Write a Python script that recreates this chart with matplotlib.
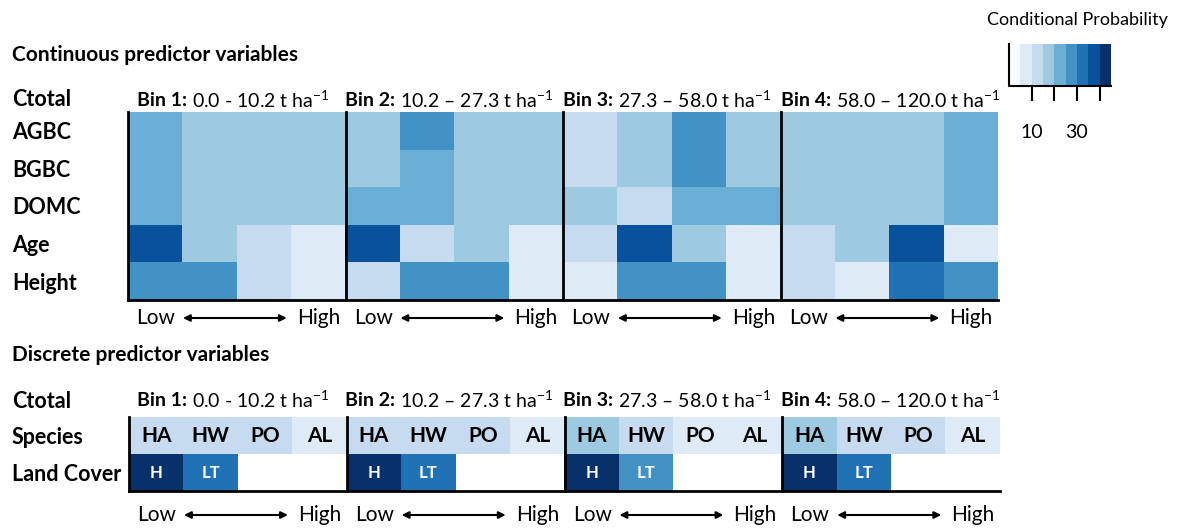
import numpy as np
import matplotlib
matplotlib.use("Agg")
import matplotlib.pyplot as plt
from matplotlib.colors import ListedColormap, BoundaryNorm
from matplotlib.cm import ScalarMappable

plt.rcParams['font.family'] = ['Lato', 'DejaVu Sans']
plt.rcParams['mathtext.fontset'] = 'custom'
plt.rcParams['mathtext.rm'] = 'Lato'
plt.rcParams['mathtext.bf'] = 'Lato:bold'

# data
bin_names = ['Bin 1:', 'Bin 2:', 'Bin 3:', 'Bin 4:']
bin_ranges = ['0.0 - 10.2', '10.2 \u2013 27.3', '27.3 \u2013 58.0', '58.0 \u2013 120.0']
cont_vars = ['AGBC', 'BGBC', 'DOMC', 'Age', 'Height']
disc_vars = ['Species', 'Land Cover']
species_labels = ['HA', 'HW', 'PO', 'AL']
cover_labels = ['H', 'LT', '', '']

# conditional probability (%), 4 states per bin, bins 1-4 side by side
cont_prob = np.array([
    [22, 17, 17, 17,  17, 27, 17, 17,  12, 17, 27, 17,  17, 17, 17, 22],
    [22, 17, 17, 17,  17, 22, 17, 17,  12, 17, 27, 17,  17, 17, 17, 22],
    [22, 17, 17, 17,  22, 22, 17, 17,  17, 12, 22, 22,  17, 17, 17, 22],
    [38, 17, 12,  7,  38, 12, 17,  7,  12, 38, 17,  7,  12, 17, 38,  7],
    [27, 27, 12,  7,  12, 27, 27,  7,   7, 27, 27,  7,  12,  7, 32, 27],
])
nan = np.nan
disc_prob = np.array([
    [12, 12, 12,  7,  12, 12, 12,  7,  17, 12,  7,  7,  17, 12, 12,  7],
    [42, 32, nan, nan,  42, 32, nan, nan,  42, 27, nan, nan,  42, 32, nan, nan],
])
levels = [0, 5, 10, 15, 20, 25, 30, 35, 40, 45]
cbar_ticks = [10, 20, 30, 40]
cbar_ticklabels = ['10', '', '30', '']

blues = ['#f7fbff', '#deebf7', '#c6dbef', '#9ecae1', '#6baed6',
         '#4292c6', '#2171b5', '#08519c', '#08306b']
cmap = ListedColormap(blues)
norm = BoundaryNorm(levels, cmap.N)

W, H = 1179, 529
fig = plt.figure(figsize=(W / 100, H / 100), dpi=100)


def ftext(x, y, s, **kw):
    return fig.text(x / W, 1 - y / H, s, **kw)


def panel(rect, values):
    left, top, right, bottom = rect
    ax = fig.add_axes([left / W, 1 - bottom / H, (right - left) / W, (bottom - top) / H])
    ax.imshow(values, cmap=cmap, norm=norm, aspect='auto', interpolation='nearest')
    ax.set_xticks([])
    ax.set_yticks([])
    for side in ['top', 'right']:
        ax.spines[side].set_visible(False)
    for side in ['left', 'bottom']:
        ax.spines[side].set_linewidth(2)
    for k in range(1, 4):
        ax.axvline(4 * k - 0.5, color='black', lw=2, clip_on=False)
    return ax


def low_high(ax, off_px):
    h = ax.get_window_extent().height
    y = -off_px / h
    tr = ax.get_xaxis_transform()
    for k in range(4):
        x0 = 4 * k - 0.5
        ax.text(x0 + 0.15, y, 'Low', transform=tr, ha='left', va='center', fontsize=15)
        ax.text(x0 + 3.9, y, 'High', transform=tr, ha='right', va='center', fontsize=15)
        ax.annotate('', xy=(x0 + 2.92, y), xytext=(x0 + 1.01, y),
                    xycoords=tr, textcoords=tr,
                    arrowprops=dict(arrowstyle='<|-|>', color='black', lw=1.5,
                                    mutation_scale=10, shrinkA=0, shrinkB=0))


def bin_labels(ax, y):
    for k, (name, rng) in enumerate(zip(bin_names, bin_ranges)):
        x = [137, 345, 563, 781][k]
        t = ftext(x, y, name, ha='left', va='center', fontsize=14, fontweight='bold')
        ax.annotate(rng + r' t ha$^{-1}$', xy=(1, 0.5), xycoords=t,
                    xytext=(3.5, 0), textcoords='offset points',
                    ha='left', va='center', fontsize=14, annotation_clip=False)


# continuous panel
ftext(12, 55, 'Continuous predictor variables', fontweight='bold', fontsize=15, va='center')
ftext(12, 100, 'Ctotal', fontweight='bold', fontsize=15.5, va='center')
ax1 = panel((128, 112, 998, 300), cont_prob)
bin_labels(ax1, 100)
for i, name in enumerate(cont_vars):
    ftext(12, 112 + (300 - 112) * (i + 0.5) / len(cont_vars) + 2, name,
          fontweight='bold', fontsize=15.5, va='center')
low_high(ax1, 18)

# discrete panel
ftext(12, 355, 'Discrete predictor variables', fontweight='bold', fontsize=15, va='center')
ftext(12, 401, 'Ctotal', fontweight='bold', fontsize=15.5, va='center')
ax2 = panel((129, 417, 1000, 491), disc_prob)
bin_labels(ax2, 400)
for i, name in enumerate(disc_vars):
    ftext(12, 417 + (491 - 417) * (i + 0.5) / len(disc_vars) + 2, name,
          fontweight='bold', fontsize=15.5, va='center')
for k in range(4):
    for j in range(4):
        ax2.text(4 * k + j, 0, species_labels[j], ha='center', va='center',
                 fontweight='bold', fontsize=15, color='black')
        if cover_labels[j]:
            ax2.text(4 * k + j, 1, cover_labels[j], ha='center', va='center',
                     fontweight='bold', fontsize=12, color='white')
low_high(ax2, 24)

# colour bar
cax = fig.add_axes([1009 / W, 1 - 86 / H, 102 / W, 42 / H])
cb = fig.colorbar(ScalarMappable(norm=norm, cmap=cmap), cax=cax,
                  orientation='horizontal', ticks=cbar_ticks)
cb.outline.set_visible(False)
cb.minorticks_off()
cax.set_xticklabels(cbar_ticklabels)
cax.tick_params(axis='x', which='major', length=11, width=1.5, pad=16, labelsize=14)
cax.plot([0, 0, 1], [1, 0, 0], transform=cax.transAxes, color='black', lw=1.5, clip_on=False)
ftext(1077, 20, 'Conditional Probability', ha='center', va='center', fontsize=13)

fig.savefig('out.png', dpi=100)
